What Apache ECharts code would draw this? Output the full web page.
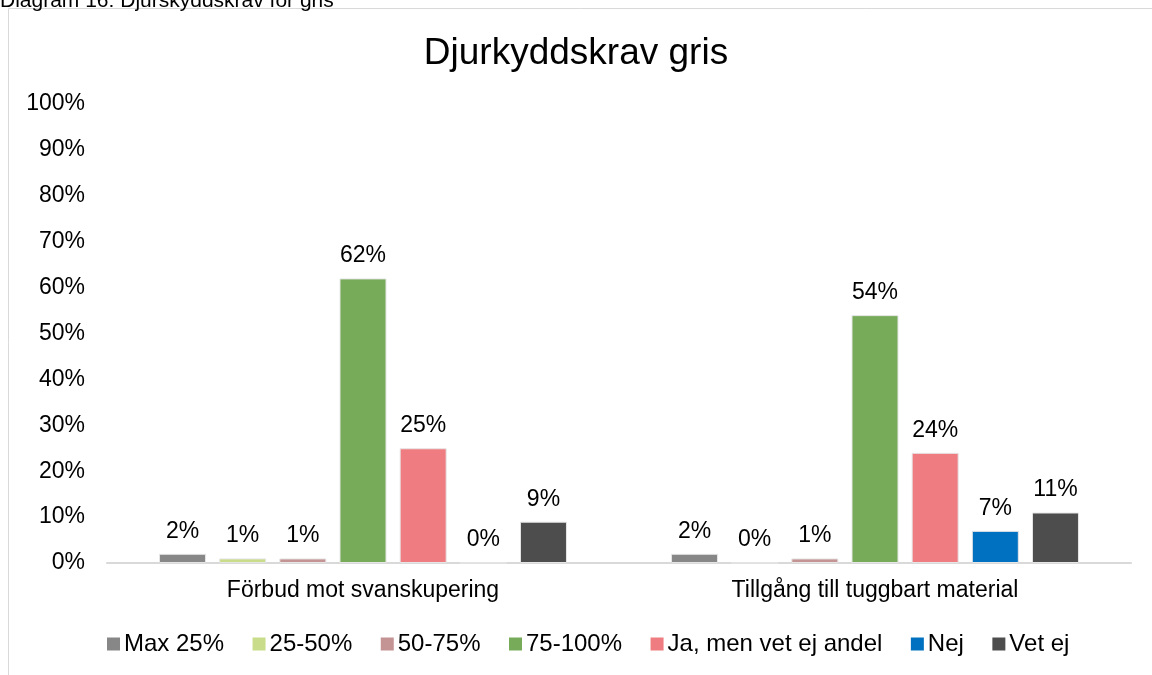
<!DOCTYPE html>
<html>
<head>
<meta charset="utf-8">
<script src="https://cdn.jsdelivr.net/npm/echarts@6/dist/echarts.min.js"></script>
<style>
html,body{margin:0;padding:0;background:#fff;}
#chart{width:1152px;height:675px;}
</style>
</head>
<body>
<div id="chart"></div>
<script>
var categories = ['Förbud mot svanskupering', 'Tillgång till tuggbart material'];
var seriesNames = ['Max 25%', '25-50%', '50-75%', '75-100%', 'Ja, men vet ej andel', 'Nej', 'Vet ej'];
var max25 = [2, 2];
var p25to50 = [1, 0];
var p50to75 = [1, 1];
var p75to100 = [62, 54];
var jaVetEj = [25, 24];
var nej = [0, 7];
var vetEj = [9, 11];
var yTicks = [0, 10, 20, 30, 40, 50, 60, 70, 80, 90, 100];
var colors = ['#878787', '#c9dc8a', '#c49393', '#77ab5a', '#ef7c80', '#0070c0', '#4d4d4d'];

var values = [max25, p25to50, p50to75, p75to100, jaVetEj, nej, vetEj];
var font = 'Liberation Sans, Arial, sans-serif';

var myChart = echarts.init(document.getElementById('chart'));
var series = seriesNames.map(function (name, i) {
    return {
        name: name,
        type: 'bar',
        data: values[i],
        barWidth: 47,
        barGap: '28%',
        itemStyle: {
            color: colors[i],
            borderColor: '#e6e6e6',
            borderWidth: 1
        },
        label: {
            show: true,
            position: 'top',
            distance: 11,
            formatter: '{c}%',
            color: '#000',
            fontSize: 23,
            fontFamily: font
        }
    };
});

var option = {
    animation: false,
    color: colors,
    title: {
        text: 'Djurkyddskrav gris',
        left: 'center',
        top: 30,
        textStyle: {
            fontFamily: font,
            fontSize: 37,
            fontWeight: 'normal',
            color: '#000'
        }
    },
    graphic: [{
        type: 'rect',
        shape: { x: 8.5, y: 8.5, width: 1160, height: 700 },
        style: { fill: 'none', stroke: '#d9d9d9', lineWidth: 1 },
        z: -1
    }, {
        type: 'text',
        left: 0,
        top: -9,
        style: {
            text: 'Diagram 16: Djurskyddskrav för gris',
            fontFamily: font,
            fontSize: 21,
            fill: '#000'
        }
    }],
    legend: {
        data: seriesNames,
        left: 102,
        top: 627,
        itemWidth: 13,
        itemHeight: 13,
        itemGap: 28.5,
        icon: 'rect',
        itemStyle: { borderWidth: 0 },
        textStyle: {
            fontFamily: font,
            fontSize: 24,
            color: '#000',
            padding: [0, 0, 0, -1]
        }
    },
    grid: {
        left: 107,
        right: 21,
        top: 104,
        bottom: 112
    },
    xAxis: {
        type: 'category',
        data: categories,
        axisTick: { show: false },
        axisLine: { lineStyle: { color: '#d9d9d9', width: 2 } },
        axisLabel: {
            color: '#000',
            fontSize: 23,
            fontFamily: font,
            margin: 16
        }
    },
    yAxis: {
        type: 'value',
        min: yTicks[0],
        max: yTicks[yTicks.length - 1],
        interval: 10,
        splitLine: { show: false },
        axisLine: { show: false },
        axisTick: { show: false },
        axisLabel: {
            color: '#000',
            fontSize: 23,
            fontFamily: font,
            margin: 22,
            formatter: '{value}%'
        }
    },
    series: series
};
myChart.setOption(option);
</script>
</body>
</html>
